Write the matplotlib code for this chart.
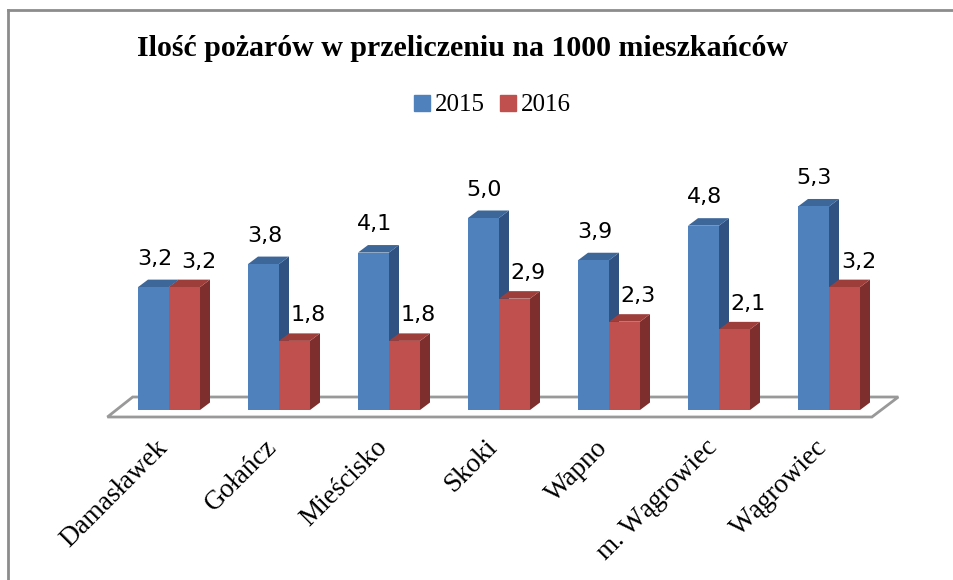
import matplotlib.pyplot as plt
from matplotlib.patches import Polygon
from matplotlib.lines import Line2D

# dane
gminy = ['Damasławek', 'Gołańcz', 'Mieścisko', 'Skoki', 'Wapno',
         'm. Wągrowiec', 'Wągrowiec']
lata = ['2015', '2016']
v2015 = [3.2, 3.8, 4.1, 5.0, 3.9, 4.8, 5.3]
v2016 = [3.2, 1.8, 1.8, 2.9, 2.3, 2.1, 3.2]
etykiety = lambda v: ('%.1f' % v).replace('.', ',')

kolory = {'2015': ('#4F81BD', '#3D6699', '#2F5282'),
          '2016': ('#C0504D', '#9E3E3B', '#7E2E2C')}

W, H = 954, 580
fig = plt.figure(figsize=(W / 100, H / 100), dpi=100)

# obramowanie wykresu
fig.add_artist(Line2D([8 / W, 1], [1 - 10 / H] * 2, color='#8c8c8c', lw=2))
fig.add_artist(Line2D([8 / W] * 2, [0, 1 - 10 / H], color='#8c8c8c', lw=2))

# os: 1 jednostka x = 110 px, 1 jednostka y = 38.4 px
px_x, px_y = 110.0, 38.4
x0_px, y0_px = 169.0, 410.0
left_px, right_px, top_px, bot_px = 100, 910, 140, 425
ax = fig.add_axes([left_px / W, 1 - bot_px / H,
                   (right_px - left_px) / W, (bot_px - top_px) / H])
ax.set_xlim((left_px - x0_px) / px_x, (right_px - x0_px) / px_x)
ax.set_ylim((y0_px - bot_px) / px_y, (y0_px - top_px) / px_y)
ax.axis('off')

w = 31 / px_x
dx, dy = 10 / px_x, 7.5 / px_y

# podloga
n = len(gminy)
fy, by = -7 / px_y, 13 / px_y
floor = Polygon([(-0.56, fy), (-0.33, by), (n - 1 + 0.63, by), (n - 1 + 0.39, fy)],
                closed=True, facecolor='white', edgecolor='#999999', lw=2, zorder=1)
ax.add_patch(floor)

for i in range(n):
    for j, (rok, vals) in enumerate(zip(lata, [v2015, v2016])):
        v = vals[i]
        xa = i - w + j * w
        xb = xa + w
        front, top, side = kolory[rok]
        z = 2 + i * 3 + j
        ax.add_patch(Polygon([(xb, 0), (xb + dx, dy), (xb + dx, v + dy), (xb, v)],
                             facecolor=side, edgecolor='none', zorder=z))
        ax.add_patch(Polygon([(xa, v), (xa + dx, v + dy), (xb + dx, v + dy), (xb, v)],
                             facecolor=top, edgecolor='none', zorder=z))
        ax.bar(xa, v, width=w, align='edge', color=front, zorder=z)
        off_x = (1 if j == 0 else 14) / px_x
        off_y = (11 if j == 0 else 8) / px_y
        ax.text(xa + w / 2 + off_x, v + dy + off_y, etykiety(v),
                ha='center', va='bottom', fontsize=16,
                family='DejaVu Sans', zorder=30)
    ax.text(i - 0.13, -25 / px_y, gminy[i], rotation=45, rotation_mode='anchor',
            ha='right', va='top', fontsize=19.5, family='Liberation Serif',
            clip_on=False)

fig.text(463 / W, 1 - 48 / H, 'Ilość pożarów w przeliczeniu na 1000 mieszkańców',
         ha='center', va='center', fontsize=21.5, fontweight='bold',
         family='Liberation Serif')

uchwyty = [Line2D([], [], marker='s', ls='', markersize=11,
                  color=kolory[r][0]) for r in lata]
fig.legend(uchwyty, lata, loc='center', bbox_to_anchor=(492 / W, 1 - 105 / H),
           ncol=2, frameon=False, handlelength=0.7, handletextpad=0.15,
           columnspacing=0.6, prop={'family': 'Liberation Serif', 'size': 18})

fig.savefig('out.png', dpi=100)
